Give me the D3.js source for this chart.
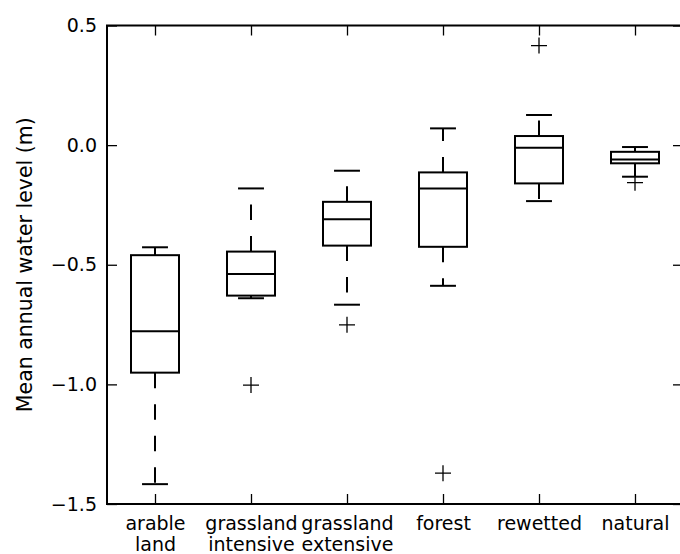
<!DOCTYPE html>
<html>
<head>
<meta charset="utf-8">
<script src="https://cdn.jsdelivr.net/npm/d3@7"></script>
<style>
  body { margin: 0; background: #fff; }
  svg { display: block; }
  svg text { font-family: "DejaVu Sans"; }
</style>
</head>
<body>
<div id="chart"></div>
<script>
// land use classes, one box each
var categories = [['arable', 'land'], ['grassland', 'intensive'], ['grassland', 'extensive'],
                  ['forest'], ['rewetted'], ['natural']];
// box statistics (m)
var whiskerLow  = [-1.417, -0.640, -0.667, -0.588, -0.234, -0.132];
var q1          = [-0.951, -0.629, -0.420, -0.425, -0.160, -0.076];
var median      = [-0.778, -0.539, -0.310, -0.181, -0.011, -0.060];
var q3          = [-0.460, -0.445, -0.237, -0.114,  0.038, -0.028];
var whiskerHigh = [-0.427, -0.181, -0.107,  0.070,  0.126, -0.008];
var outliers    = [[], [-1.003], [-0.751], [-1.371], [0.416], [-0.157]];
var yTicks = [-1.5, -1.0, -0.5, 0.0, 0.5];

var width = 680, height = 554
  , margin = {top: 25.5, right: -3, bottom: 50, left: 107}
  , font = '"DejaVu Sans"'
;

var svg = d3.select('#chart').append('svg')
    .attr('width', width)
    .attr('height', height);

var x = d3.scaleLinear()
    .domain([0.5, categories.length + 0.5])
    .range([margin.left, width - margin.right]);

var y = d3.scaleLinear()
    .domain([-1.5, 0.5])
    .range([height - margin.bottom, margin.top]);

var idx = d3.range(categories.length);
var fmt = d3.format('.1f');

//
// axes, matplotlib style: ticks pointing inward
//
var left = svg.append('g')
    .attr('transform', 'translate(' + margin.left + ',0)')
    .call(d3.axisLeft(y).tickValues(yTicks)
      .tickFormat(function (d) { return fmt(d).replace(/^[-\u2212]/, '\u2212'); })
      .tickSizeInner(-10).tickSizeOuter(0).tickPadding(10));

svg.append('g')
    .attr('transform', 'translate(' + (width - margin.right) + ',0)')
    .call(d3.axisRight(y).tickValues(yTicks).tickFormat('')
      .tickSizeInner(-10).tickSizeOuter(0));

svg.append('g')
    .attr('transform', 'translate(0,' + margin.top + ')')
    .call(d3.axisTop(x).tickValues(idx.map(function (i) { return i + 1; })).tickFormat('')
      .tickSizeInner(-10).tickSizeOuter(0));

var bottom = svg.append('g')
    .attr('transform', 'translate(0,' + (height - margin.bottom) + ')')
    .call(d3.axisBottom(x).tickValues(idx.map(function (i) { return i + 1; })).tickFormat('')
      .tickSizeInner(-10).tickSizeOuter(0));

svg.selectAll('.domain').remove();
svg.selectAll('.tick line').attr('stroke', '#000').attr('stroke-width', 1.3);
svg.selectAll('g').attr('font-family', font);

left.selectAll('text')
    .attr('fill', '#000')
    .attr('font-family', font)
    .attr('font-size', 19);

// two line category labels
bottom.selectAll('.tick').each(function (d) {
  var t = d3.select(this).append('text')
      .attr('fill', '#000')
      .attr('text-anchor', 'middle')
      .attr('font-family', font)
      .attr('font-size', 19);
  categories[d - 1].forEach(function (line, k) {
    t.append('tspan').attr('x', 0).attr('y', 26 + k * 21).text(line);
  });
});

// frame
svg.append('rect')
    .attr('x', margin.left)
    .attr('y', margin.top)
    .attr('width', x.range()[1] - margin.left)
    .attr('height', y.range()[0] - margin.top)
    .attr('fill', 'none')
    .attr('stroke', '#000')
    .attr('stroke-width', 2);

svg.append('text')
    .attr('transform', 'translate(32,' + ((margin.top + y.range()[0]) / 2) + ') rotate(-90)')
    .attr('text-anchor', 'middle')
    .attr('font-family', font)
    .attr('font-size', 20.5)
    .text('Mean annual water level (m)');

//
// the boxes
//
var boxW = 0.5, capW = 0.27;
var g = svg.selectAll('g.box')
    .data(idx)
    .enter()
    .append('g')
    .attr('class', 'box')
    .attr('stroke', '#000')
    .attr('fill', 'none');

// whiskers, dashed, drawn from box edge outward
g.append('line')
    .attr('x1', function (i) { return x(i + 1); })
    .attr('x2', function (i) { return x(i + 1); })
    .attr('y1', function (i) { return y(q3[i]); })
    .attr('y2', function (i) { return y(whiskerHigh[i]); })
    .attr('stroke-width', 2)
    .attr('stroke-dasharray', '15.5,16');

g.append('line')
    .attr('x1', function (i) { return x(i + 1); })
    .attr('x2', function (i) { return x(i + 1); })
    .attr('y1', function (i) { return y(q1[i]); })
    .attr('y2', function (i) { return y(whiskerLow[i]); })
    .attr('stroke-width', 2)
    .attr('stroke-dasharray', '15.5,16');

// caps
[whiskerHigh, whiskerLow].forEach(function (arr) {
  g.append('line')
      .attr('x1', function (i) { return x(i + 1 - capW / 2); })
      .attr('x2', function (i) { return x(i + 1 + capW / 2); })
      .attr('y1', function (i) { return y(arr[i]); })
      .attr('y2', function (i) { return y(arr[i]); })
      .attr('stroke-width', 2);
});

g.append('rect')
    .attr('x', function (i) { return x(i + 1 - boxW / 2); })
    .attr('width', function (i) { return x(i + 1 + boxW / 2) - x(i + 1 - boxW / 2); })
    .attr('y', function (i) { return y(q3[i]); })
    .attr('height', function (i) { return y(q1[i]) - y(q3[i]); })
    .attr('stroke-width', 2);

g.append('line')
    .attr('x1', function (i) { return x(i + 1 - boxW / 2); })
    .attr('x2', function (i) { return x(i + 1 + boxW / 2); })
    .attr('y1', function (i) { return y(median[i]); })
    .attr('y2', function (i) { return y(median[i]); })
    .attr('stroke-width', 2);

// fliers as plus markers
g.selectAll('path.flier')
    .data(function (i) { return outliers[i].map(function (v) { return {i: i, v: v}; }); })
    .enter()
    .append('path')
    .attr('class', 'flier')
    .attr('stroke-width', 1.3)
    .attr('d', function (d) {
      var cx = x(d.i + 1), cy = y(d.v), r = 8;
      return 'M' + (cx - r) + ',' + cy + 'H' + (cx + r) + 'M' + cx + ',' + (cy - r) + 'V' + (cy + r);
    });
</script>
</body>
</html>
